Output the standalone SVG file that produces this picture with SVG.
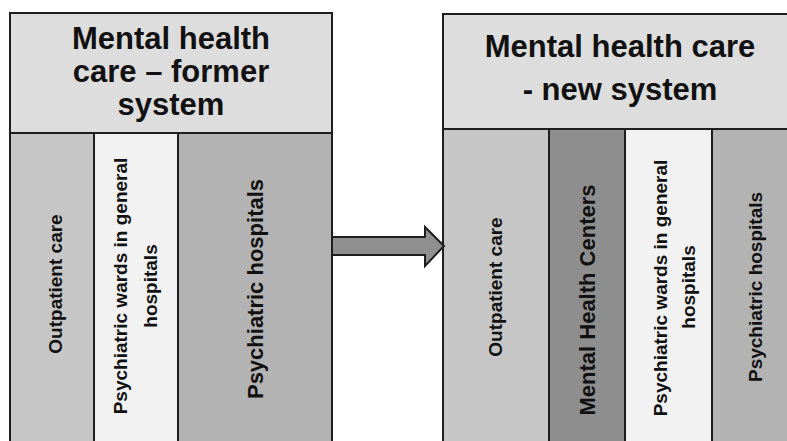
<svg xmlns="http://www.w3.org/2000/svg" width="787" height="441" viewBox="0 0 787 441">
  <style>
    .box { stroke: #1e1e1e; stroke-width: 2; }
    .head { fill: #dddddd; }
    .outpatient { fill: #c6c6c6; }
    .wards { fill: #f2f2f2; }
    .hosp { fill: #b3b3b3; }
    .mhc { fill: #8e8e8e; }
    .title { font-family: "Liberation Sans", Arial, sans-serif; font-weight: bold; font-size: 31px; fill: #111; text-anchor: middle; }
    .lbl { font-family: "Liberation Sans", Arial, sans-serif; font-weight: bold; font-size: 19px; fill: #111; text-anchor: middle; }
    .lbl-lg { font-size: 22px; }
    .arrow { fill: #8f8f8f; stroke: #1e1e1e; stroke-width: 2; stroke-linejoin: miter; }
  </style>

  <rect width="787" height="441" fill="#ffffff"/>

  <!-- Former system -->
  <g id="former-header">
    <rect class="box head" x="10" y="13" width="322" height="120"/>
    <text class="title" x="171" y="49">Mental health</text>
    <text class="title" x="171" y="82">care – former</text>
    <text class="title" x="171" y="115">system</text>
  </g>
  <g id="former-outpatient">
    <rect class="box outpatient" x="10" y="133" width="84" height="320"/>
    <text class="lbl" transform="translate(62,284) rotate(-90)">Outpatient care</text>
  </g>
  <g id="former-wards">
    <rect class="box wards" x="94" y="133" width="84" height="320"/>
    <text class="lbl" transform="translate(127,286) rotate(-90)">Psychiatric wards in general</text>
    <text class="lbl" transform="translate(157,286) rotate(-90)">hospitals</text>
  </g>
  <g id="former-hospitals">
    <rect class="box hosp" x="178" y="133" width="154" height="320"/>
    <text class="lbl lbl-lg" transform="translate(263,289) rotate(-90)">Psychiatric hospitals</text>
  </g>

  <!-- New system -->
  <g id="new-header">
    <rect class="box head" x="443" y="14" width="360" height="115"/>
    <text class="title" x="620" y="57">Mental health care</text>
    <text class="title" x="620" y="100">- new system</text>
  </g>
  <g id="new-outpatient">
    <rect class="box outpatient" x="443" y="129" width="106" height="324"/>
    <text class="lbl" transform="translate(502,287) rotate(-90)">Outpatient care</text>
  </g>
  <g id="new-centers">
    <rect class="box mhc" x="549" y="129" width="76" height="324"/>
    <text class="lbl lbl-lg" transform="translate(595,300) rotate(-90)">Mental Health Centers</text>
  </g>
  <g id="new-wards">
    <rect class="box wards" x="625" y="129" width="87" height="324"/>
    <text class="lbl" transform="translate(667,288) rotate(-90)">Psychiatric wards in general</text>
    <text class="lbl" transform="translate(695,287) rotate(-90)">hospitals</text>
  </g>
  <g id="new-hospitals">
    <rect class="box hosp" x="712" y="129" width="90" height="324"/>
    <text class="lbl" transform="translate(762,287) rotate(-90)">Psychiatric hospitals</text>
  </g>

  <!-- Transition arrow -->
  <g id="connectors">
    <polygon class="arrow" points="332,237 425,237 425,227 444,246 425,266 425,255 332,255"/>
  </g>
</svg>
